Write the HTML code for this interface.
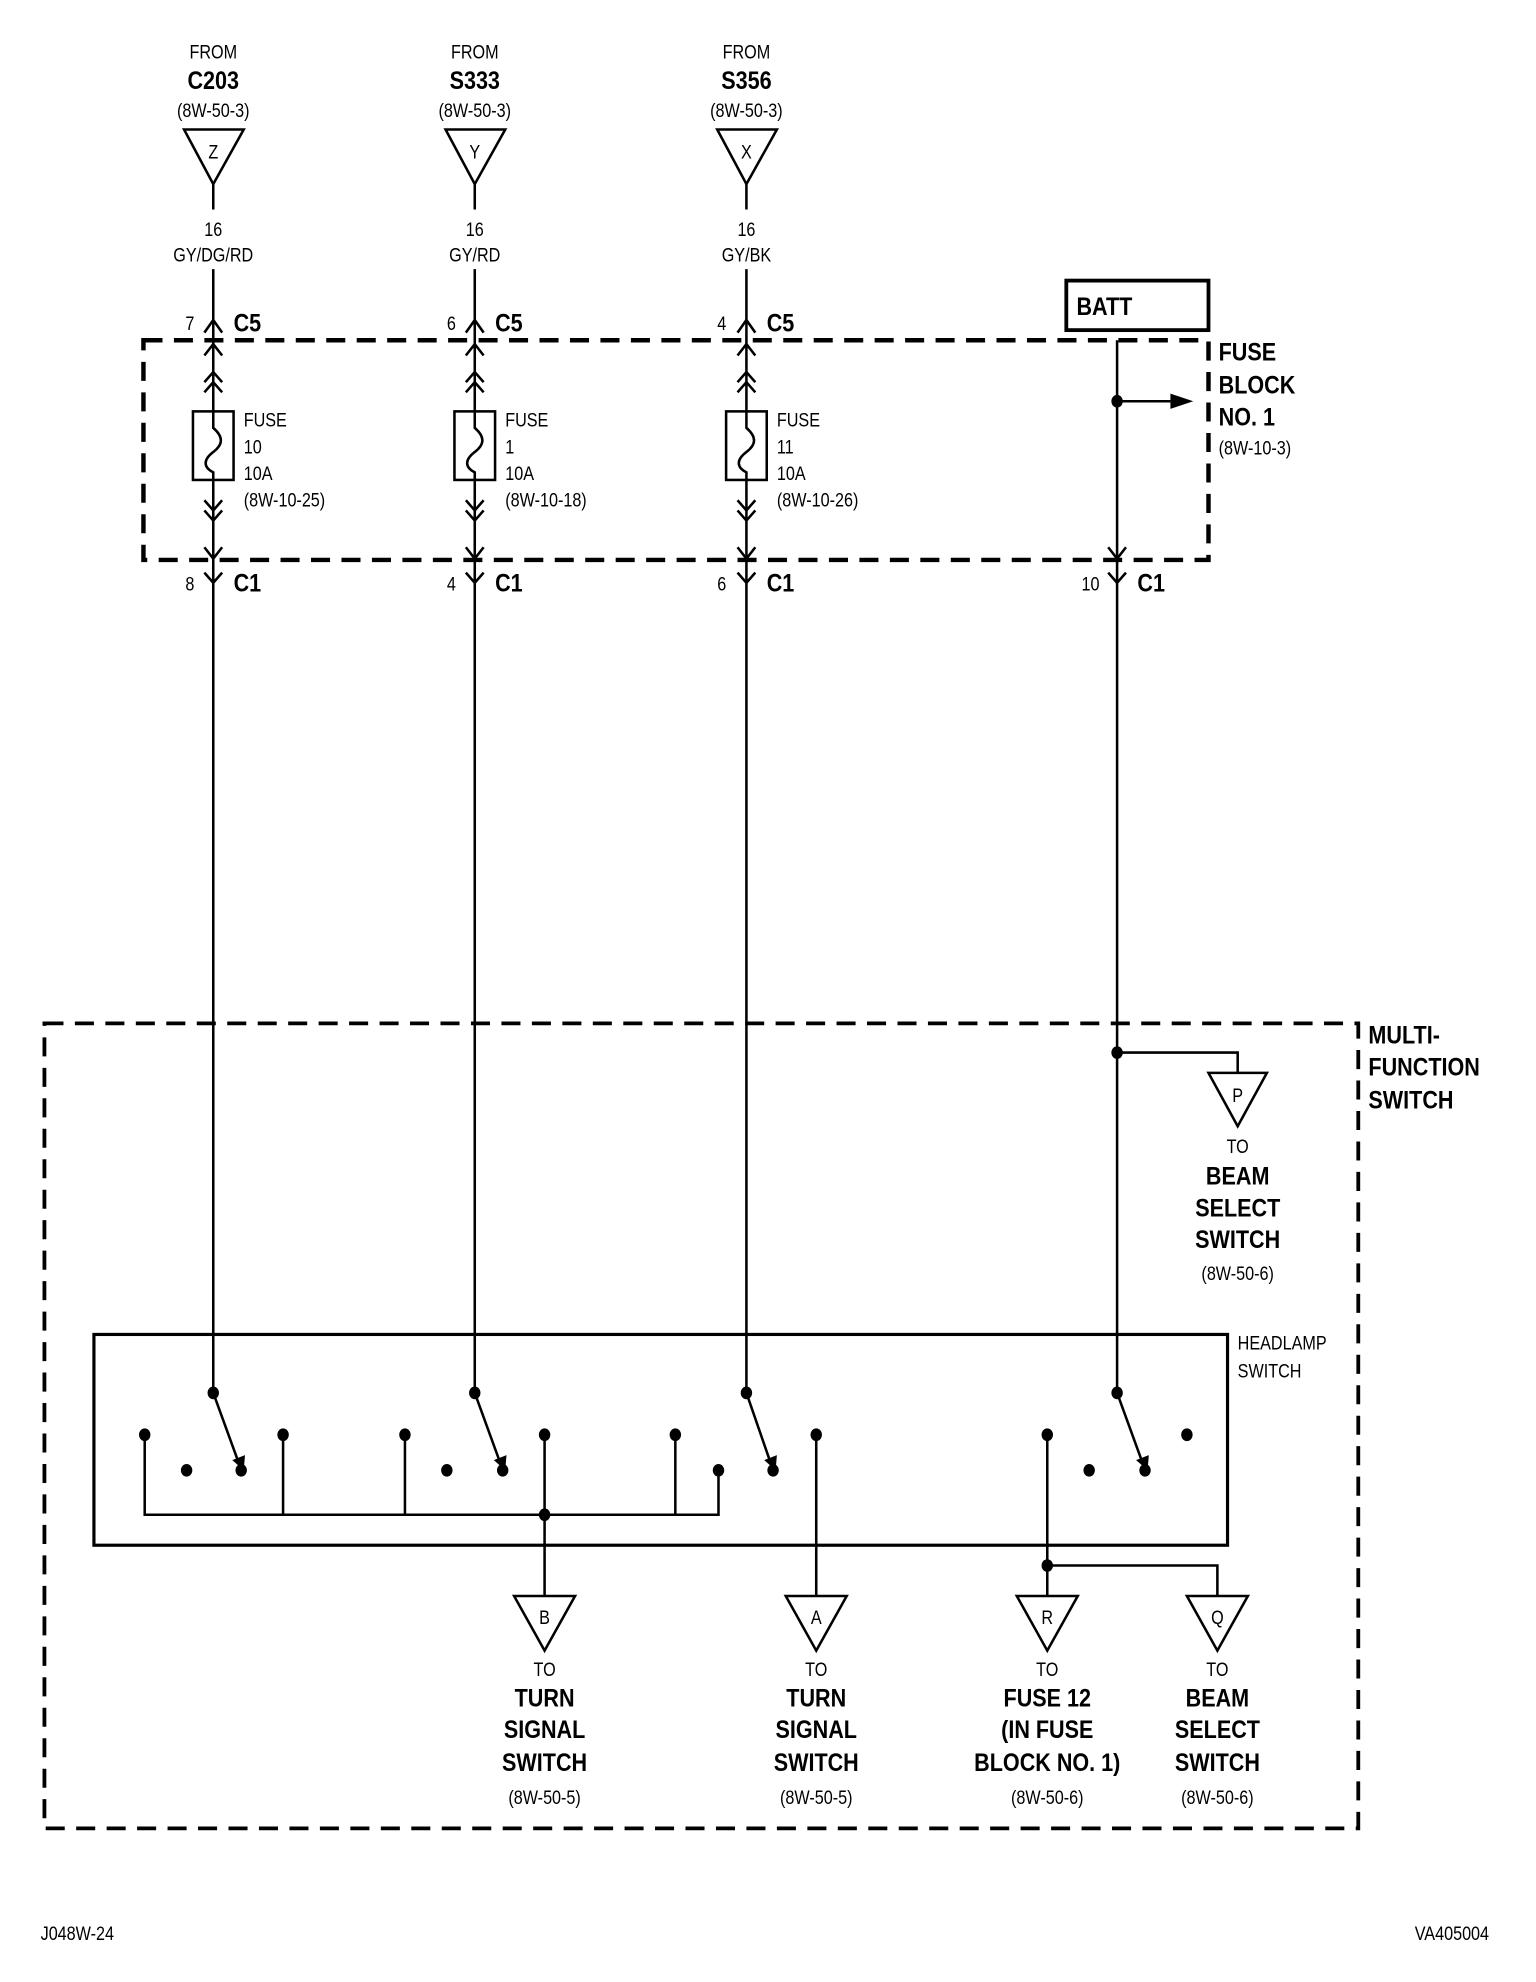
<!DOCTYPE html>
<html><head><meta charset="utf-8"><style>
html,body{margin:0;padding:0;background:#fff;}
svg{display:block;}
text{font-family:"Liberation Sans",sans-serif;fill:#000;transform-box:fill-box;transform-origin:0% 50%;transform:scaleX(0.85);}
.s{font-size:15px;}
.b{font-size:20px;font-weight:bold;}
.c{text-anchor:middle;transform-origin:50% 50%;}
.e{text-anchor:end;transform-origin:100% 50%;}
</style></head><body>
<svg width="1536" height="1982" viewBox="0 0 1210 1561" preserveAspectRatio="none" xmlns="http://www.w3.org/2000/svg">
<g stroke="#000" fill="none" stroke-width="2">
  <polygon points="145,102 192,102 168,145"/>
  <polygon points="351,102 398,102 374,145"/>
  <polygon points="565,102 612,102 588,145"/>
  <line x1="168" y1="145" x2="168" y2="165"/><line x1="374" y1="145" x2="374" y2="165"/><line x1="588" y1="145" x2="588" y2="165"/>
  <line x1="168" y1="212" x2="168" y2="1097"/><line x1="374" y1="212" x2="374" y2="1097"/><line x1="588" y1="212" x2="588" y2="1097"/>
  <line x1="880" y1="268" x2="880" y2="1097"/>
  <polyline points="161,262 168,252 175,262"/><polyline points="367,262 374,252 381,262"/><polyline points="581,262 588,252 595,262"/>
  <polyline points="161,280 168,271 175,280"/><polyline points="367,280 374,271 381,280"/><polyline points="581,280 588,271 595,280"/>
  <polyline points="161,301 168,293 175,301"/><polyline points="161,309 168,301 175,309"/>
  <polyline points="367,301 374,293 381,301"/><polyline points="367,309 374,301 381,309"/>
  <polyline points="581,301 588,293 595,301"/><polyline points="581,309 588,301 595,309"/>
  <polyline points="161,394 168,402 175,394"/><polyline points="161,402 168,410 175,402"/>
  <polyline points="367,394 374,402 381,394"/><polyline points="367,402 374,410 381,402"/>
  <polyline points="581,394 588,402 595,394"/><polyline points="581,402 588,410 595,402"/>
  <polyline points="161,431 168,440 175,431"/><polyline points="367,431 374,440 381,431"/><polyline points="581,431 588,440 595,431"/><polyline points="873,431 880,440 887,431"/>
  <polyline points="161,451 168,459 175,451"/><polyline points="367,451 374,459 381,451"/><polyline points="581,451 588,459 595,451"/><polyline points="873,451 880,459 887,451"/>
  <rect x="152" y="324" width="32" height="54" fill="#fff"/>
  <rect x="358" y="324" width="32" height="54" fill="#fff"/>
  <rect x="572" y="324" width="32" height="54" fill="#fff"/>
  <path d="M168,324 V337 C176,344 176,350 168,356 C160,362 160,368 168,372 V378"/>
  <path d="M374,324 V337 C382,344 382,350 374,356 C366,362 366,368 374,372 V378"/>
  <path d="M588,324 V337 C596,344 596,350 588,356 C580,362 580,368 588,372 V378"/>
  <rect x="840" y="221" width="112" height="39" stroke-width="3"/>
  <line x1="880" y1="316" x2="922" y2="316"/>
  <rect x="113" y="268" width="839" height="173" stroke-width="3.5" stroke-dasharray="15,9"/>
  <rect x="35" y="806" width="1035" height="634" stroke-width="3" stroke-dasharray="15,9"/>
  <polyline points="880,829 975,829 975,845"/>
  <polygon points="952,845 998,845 975,887"/>
  <rect x="74" y="1051" width="893" height="166" stroke-width="2.5"/>
  <line x1="168" y1="1097" x2="188" y2="1152"/><line x1="374" y1="1097" x2="394" y2="1152"/>
  <line x1="588" y1="1097" x2="607" y2="1152"/><line x1="880" y1="1097" x2="900" y2="1152"/>
  <polyline points="114,1130 114,1193 566,1193 566,1158"/>
  <line x1="223" y1="1130" x2="223" y2="1193"/><line x1="319" y1="1130" x2="319" y2="1193"/><line x1="532" y1="1130" x2="532" y2="1193"/>
  <line x1="429" y1="1130" x2="429" y2="1257"/><line x1="643" y1="1130" x2="643" y2="1257"/>
  <line x1="825" y1="1130" x2="825" y2="1257"/>
  <polyline points="825,1233 959,1233 959,1257"/>
  <polygon points="405,1257 453,1257 429,1300"/>
  <polygon points="619,1257 667,1257 643,1300"/>
  <polygon points="801,1257 849,1257 825,1300"/>
  <polygon points="935,1257 983,1257 959,1300"/>
</g>
<g fill="#000">
  <polygon points="922,310 940,316 922,322"/>
  <polygon points="183,1150 192,1158 193,1146"/>
  <polygon points="389,1150 398,1158 399,1146"/>
  <polygon points="602,1150 611,1158 612,1146"/>
  <polygon points="895,1150 904,1158 905,1146"/>
  <ellipse cx="880" cy="316" rx="4.5" ry="5"/><ellipse cx="880" cy="829" rx="4.5" ry="5"/>
  <ellipse cx="429" cy="1193" rx="4.5" ry="5"/><ellipse cx="825" cy="1233" rx="4.5" ry="5"/>
  <ellipse cx="168" cy="1097" rx="4.5" ry="5"/><ellipse cx="114" cy="1130" rx="4.5" ry="5"/><ellipse cx="147" cy="1158" rx="4.5" ry="5"/><ellipse cx="190" cy="1158" rx="4.5" ry="5"/><ellipse cx="223" cy="1130" rx="4.5" ry="5"/>
  <ellipse cx="374" cy="1097" rx="4.5" ry="5"/><ellipse cx="319" cy="1130" rx="4.5" ry="5"/><ellipse cx="352" cy="1158" rx="4.5" ry="5"/><ellipse cx="396" cy="1158" rx="4.5" ry="5"/><ellipse cx="429" cy="1130" rx="4.5" ry="5"/>
  <ellipse cx="588" cy="1097" rx="4.5" ry="5"/><ellipse cx="532" cy="1130" rx="4.5" ry="5"/><ellipse cx="566" cy="1158" rx="4.5" ry="5"/><ellipse cx="609" cy="1158" rx="4.5" ry="5"/><ellipse cx="643" cy="1130" rx="4.5" ry="5"/>
  <ellipse cx="880" cy="1097" rx="4.5" ry="5"/><ellipse cx="825" cy="1130" rx="4.5" ry="5"/><ellipse cx="858" cy="1158" rx="4.5" ry="5"/><ellipse cx="902" cy="1158" rx="4.5" ry="5"/><ellipse cx="935" cy="1130" rx="4.5" ry="5"/>
</g>

<text class="s c" x="168" y="46">FROM</text><text class="b c" x="168" y="70">C203</text><text class="s c" x="168" y="92">(8W-50-3)</text><text class="s c" x="168" y="125">Z</text>
<text class="s c" x="374" y="46">FROM</text><text class="b c" x="374" y="70">S333</text><text class="s c" x="374" y="92">(8W-50-3)</text><text class="s c" x="374" y="125">Y</text>
<text class="s c" x="588" y="46">FROM</text><text class="b c" x="588" y="70">S356</text><text class="s c" x="588" y="92">(8W-50-3)</text><text class="s c" x="588" y="125">X</text>
<text class="s c" x="168" y="186">16</text><text class="s c" x="168" y="206">GY/DG/RD</text>
<text class="s c" x="374" y="186">16</text><text class="s c" x="374" y="206">GY/RD</text>
<text class="s c" x="588" y="186">16</text><text class="s c" x="588" y="206">GY/BK</text>
<text class="s" x="146" y="260">7</text><text class="b" x="184" y="261">C5</text>
<text class="s" x="352" y="260">6</text><text class="b" x="390" y="261">C5</text>
<text class="s" x="565" y="260">4</text><text class="b" x="604" y="261">C5</text>
<text class="s" x="146" y="465">8</text><text class="b" x="184" y="466">C1</text>
<text class="s" x="352" y="465">4</text><text class="b" x="390" y="466">C1</text>
<text class="s" x="565" y="465">6</text><text class="b" x="604" y="466">C1</text>
<text class="s" x="852" y="465">10</text><text class="b" x="896" y="466">C1</text>
<text class="b" x="848" y="248">BATT</text>
<text class="b" x="960" y="284">FUSE</text><text class="b" x="960" y="310">BLOCK</text><text class="b" x="960" y="335">NO. 1</text><text class="s" x="960" y="358">(8W-10-3)</text>
<text class="s" x="192" y="336">FUSE</text><text class="s" x="192" y="357">10</text><text class="s" x="192" y="378">10A</text><text class="s" x="192" y="399">(8W-10-25)</text>
<text class="s" x="398" y="336">FUSE</text><text class="s" x="398" y="357">1</text><text class="s" x="398" y="378">10A</text><text class="s" x="398" y="399">(8W-10-18)</text>
<text class="s" x="612" y="336">FUSE</text><text class="s" x="612" y="357">11</text><text class="s" x="612" y="378">10A</text><text class="s" x="612" y="399">(8W-10-26)</text>
<text class="b" x="1078" y="822">MULTI-</text><text class="b" x="1078" y="847">FUNCTION</text><text class="b" x="1078" y="873">SWITCH</text>
<text class="s" x="975" y="1063">HEADLAMP</text><text class="s" x="975" y="1085">SWITCH</text>
<text class="s c" x="975" y="868">P</text><text class="s c" x="975" y="908">TO</text><text class="b c" x="975" y="933">BEAM</text><text class="b c" x="975" y="958">SELECT</text><text class="b c" x="975" y="983">SWITCH</text><text class="s c" x="975" y="1008">(8W-50-6)</text>
<text class="s c" x="429" y="1279">B</text><text class="s c" x="429" y="1320">TO</text><text class="b c" x="429" y="1344">TURN</text><text class="b c" x="429" y="1369">SIGNAL</text><text class="b c" x="429" y="1395">SWITCH</text><text class="s c" x="429" y="1421">(8W-50-5)</text>
<text class="s c" x="643" y="1279">A</text><text class="s c" x="643" y="1320">TO</text><text class="b c" x="643" y="1344">TURN</text><text class="b c" x="643" y="1369">SIGNAL</text><text class="b c" x="643" y="1395">SWITCH</text><text class="s c" x="643" y="1421">(8W-50-5)</text>
<text class="s c" x="825" y="1279">R</text><text class="s c" x="825" y="1320">TO</text><text class="b c" x="825" y="1344">FUSE 12</text><text class="b c" x="825" y="1369">(IN FUSE</text><text class="b c" x="825" y="1395">BLOCK NO. 1)</text><text class="s c" x="825" y="1421">(8W-50-6)</text>
<text class="s c" x="959" y="1279">Q</text><text class="s c" x="959" y="1320">TO</text><text class="b c" x="959" y="1344">BEAM</text><text class="b c" x="959" y="1369">SELECT</text><text class="b c" x="959" y="1395">SWITCH</text><text class="s c" x="959" y="1421">(8W-50-6)</text>
<text class="s" x="32" y="1528">J048W-24</text>
<text class="s e" x="1173" y="1528">VA405004</text>
</svg>
</body></html>
